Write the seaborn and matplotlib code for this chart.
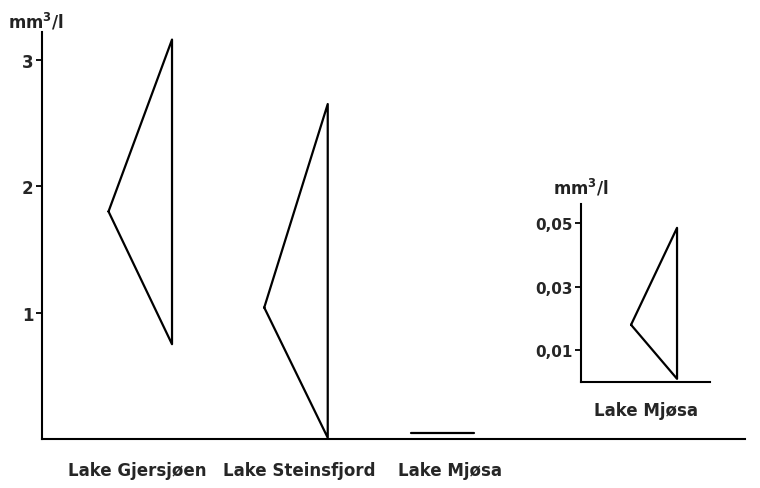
import matplotlib
matplotlib.use("Agg")
import matplotlib.pyplot as plt
import seaborn as sns
import pandas as pd

# Phytoplankton volume per lake: mean, minimum and maximum (mm3/l)
lakes = ["Lake Gjersjøen", "Lake Steinsfjord", "Lake Mjøsa"]
mean_vol = [1.80, 1.04, 0.018]
min_vol = [0.75, 0.01, 0.001]
max_vol = [3.16, 2.65, 0.0485]

main_ticks = [1, 2, 3]
inset_ticks = [0.01, 0.03, 0.05]
inset_ticklabels = ["0,01", "0,03", "0,05"]

positions = [0.0, 1.03, 2.0]        # where each lake's mark sits
label_positions = [-0.02, 1.05, 2.05]  # where each lake's name is centred

HALF = 0.21  # half width of each range triangle, in category units


def triangle_rows(lake, pos, mean, lo, hi):
    # mean on the left tip, the min-max range as the vertical right side
    return [
        {"lake": lake, "order": 0, "x": pos - HALF, "y": mean},
        {"lake": lake, "order": 1, "x": pos + HALF, "y": hi},
        {"lake": lake, "order": 2, "x": pos + HALF, "y": lo},
        {"lake": lake, "order": 3, "x": pos - HALF, "y": mean},
    ]


rows = []
for i, lake in enumerate(lakes[:2]):
    rows += triangle_rows(lake, positions[i], mean_vol[i], min_vol[i], max_vol[i])
# Mjøsa is too small to resolve on the main scale: a flat mark at its maximum
mjosa_flat = pd.DataFrame({"lake": lakes[2], "order": [0, 1],
                           "x": [positions[2] - HALF, positions[2] + HALF],
                           "y": [max_vol[2], max_vol[2]]})
main_df = pd.concat([pd.DataFrame(rows), mjosa_flat], ignore_index=True)

inset_df = pd.DataFrame(triangle_rows(lakes[2], 0, mean_vol[2], min_vol[2], max_vol[2]))

sns.set_theme(style="ticks")
plt.rcParams["font.family"] = ["DejaVu Sans"]
plt.rcParams["font.weight"] = "bold"
plt.rcParams["text.color"] = "#222222"

fig = plt.figure(figsize=(7.6, 4.89), dpi=100)

ax = fig.add_axes([42 / 760, 49 / 489, 703 / 760, 407 / 489])
sns.lineplot(data=main_df, x="x", y="y", units="lake", estimator=None, sort=False,
             color="black", linewidth=1.6, ax=ax, legend=False)
ax.set_xlim(-0.65, 4.0)
ax.set_ylim(0, 3.22)
ax.set_yticks(main_ticks)
ax.set_yticklabels([str(t) for t in main_ticks], fontsize=12, fontweight="bold")
ax.set_xticks(label_positions)
ax.set_xticklabels(lakes, fontsize=12, fontweight="bold")
ax.tick_params(axis="x", length=0, pad=16)
ax.tick_params(axis="y", direction="out", length=4, width=1.3, pad=2, color="black")
ax.set_xlabel("")
ax.set_ylabel("")
for side in ["top", "right"]:
    ax.spines[side].set_visible(False)
for side in ["left", "bottom"]:
    ax.spines[side].set_linewidth(1.5)
    ax.spines[side].set_color("black")
fig.text(8 / 760, 1 - 22 / 489, "mm$^\\mathbf{3}$/l", fontsize=12, fontweight="bold",
         va="center", ha="left")

axi = fig.add_axes([581 / 760, 106 / 489, 129 / 760, 178 / 489])
sns.lineplot(data=inset_df, x="x", y="y", units="lake", estimator=None, sort=False,
             color="black", linewidth=1.6, ax=axi, legend=False)
axi.set_xlim(-0.667, 0.511)
axi.set_ylim(0, 0.056)
axi.set_yticks(inset_ticks)
axi.set_yticklabels(inset_ticklabels, fontsize=11, fontweight="bold")
axi.set_xticks([])
axi.set_xlabel("Lake Mjøsa", fontsize=12, fontweight="bold", labelpad=14)
axi.set_ylabel("")
axi.patch.set_alpha(0)
axi.tick_params(axis="y", direction="out", length=4, width=1.3, pad=2, color="black")
for side in ["top", "right"]:
    axi.spines[side].set_visible(False)
for side in ["left", "bottom"]:
    axi.spines[side].set_linewidth(1.5)
    axi.spines[side].set_color("black")
fig.text(553 / 760, 1 - 188 / 489, "mm$^\\mathbf{3}$/l", fontsize=12, fontweight="bold",
         va="center", ha="left")

fig.savefig("out.png", dpi=100, facecolor="white")
